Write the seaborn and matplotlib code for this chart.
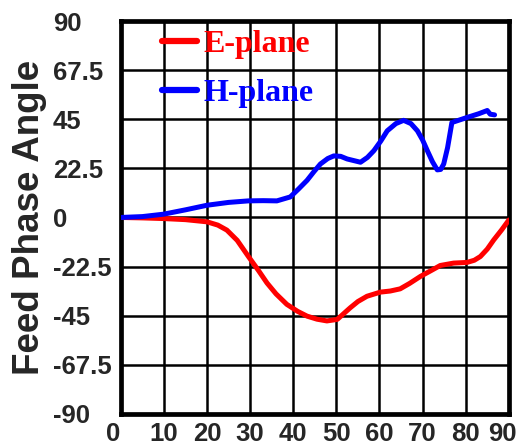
import numpy as np
import pandas as pd
import matplotlib
matplotlib.use("Agg")
import matplotlib.pyplot as plt
import matplotlib.transforms as mtransforms
from matplotlib.font_manager import FontProperties
import seaborn as sns

# ---------------------------------------------------------------------
# Data (angle in degrees)
# ---------------------------------------------------------------------
e_theta = [0, 5, 9.9, 15, 20, 22.5, 24.6, 27, 29.6, 32, 33.9, 36, 38.5, 41,
           43.2, 45.5, 47.8, 50.2, 53.2, 55, 57.1, 60.2, 62.5, 64.8, 67,
           69.5, 72, 74.1, 77.2, 80.3, 82, 83.4, 85, 86.5, 88.3, 90]
e_phase = [0, -0.2, -0.5, -1.0, -2.0, -3.5, -5.8, -10.5, -17.9, -24.5,
           -30.0, -35.0, -39.8, -43.0, -45.2, -46.6, -47.4, -46.7, -41.4,
           -38.5, -36.1, -34.2, -33.7, -32.7, -30.2, -27.0, -24.3, -22.0,
           -20.9, -20.6, -19.6, -17.9, -14.5, -10.3, -5.8, -1.2]

h_theta = [0, 5, 9.9, 15, 20, 25, 29.6, 33, 36.2, 39.3, 41.2, 43.2, 44.8,
           46.3, 48, 49.4, 51, 52.5, 55.6, 57.2, 58.7, 60.3, 61.8, 63.8,
           65.6, 67.3, 68.8, 70, 71.1, 72.3, 73.4, 74.2, 74.9, 75.8, 76.8,
           80.3, 83, 85, 85.7, 86.7]
h_phase = [0, 0.4, 1.5, 3.5, 5.6, 6.9, 7.6, 7.7, 7.6, 9.4, 13.0, 17.0, 21.0,
           24.5, 27.0, 28.2, 28.0, 26.8, 25.3, 27.5, 30.6, 35.0, 39.7, 43.0,
           44.5, 43.0, 39.7, 35.5, 30.6, 25.5, 21.8, 22.0, 24.5, 32.0, 43.5,
           45.8, 47.5, 49.0, 47.3, 47.0]

series_names = ["E-plane", "H-plane"]
series_colors = ["#ff0000", "#0000ff"]

x_ticks = [0, 10, 20, 30, 40, 50, 60, 70, 80, 90]
y_ticks = [-90, -67.5, -45, -22.5, 0, 22.5, 45, 67.5, 90]
y_tick_labels = ["-90", "-67.5", "-45", "-22.5", "0", "22.5", "45", "67.5", "90"]

df = pd.concat([
    pd.DataFrame({"theta": e_theta, "phase": e_phase, "plane": series_names[0]}),
    pd.DataFrame({"theta": h_theta, "phase": h_phase, "plane": series_names[1]}),
], ignore_index=True)

# ---------------------------------------------------------------------
# Plot
# ---------------------------------------------------------------------
sns.set_style("white")
fig = plt.figure(figsize=(5.3, 4.47), dpi=100)
ax = fig.add_axes([0.228, 0.074, 0.732, 0.879])

sns.lineplot(data=df, x="theta", y="phase", hue="plane", sort=False,
             palette=dict(zip(series_names, series_colors)),
             linewidth=3.6, ax=ax, zorder=3)

ax.set_xlim(0, 90)
ax.set_ylim(-90, 90)
ax.set_xticks(x_ticks)
ax.set_yticks(y_ticks)
ax.set_yticklabels(y_tick_labels)
ax.grid(True, color="black", linewidth=1.8)
ax.set_axisbelow(True)

for side in ["left", "right", "top", "bottom"]:
    ax.spines[side].set_visible(True)
    ax.spines[side].set_color("black")
    ax.spines[side].set_linewidth(3.4)

tick_font = FontProperties(family="Liberation Sans", weight="bold", size=18.5)
ax.tick_params(axis="both", length=0)
ax.tick_params(axis="y", pad=49)
ax.tick_params(axis="x", pad=6)
for lab in ax.get_yticklabels():
    lab.set_fontproperties(tick_font)
    lab.set_horizontalalignment("left")
xlabs = ax.get_xticklabels()
for lab in xlabs:
    lab.set_fontproperties(tick_font)
# the end labels sit a little left of their grid lines in the reference
xlabs[0].set_transform(xlabs[0].get_transform() +
                       mtransforms.ScaledTranslation(-0.08, 0, fig.dpi_scale_trans))
xlabs[-1].set_transform(xlabs[-1].get_transform() +
                        mtransforms.ScaledTranslation(-0.06, 0, fig.dpi_scale_trans))

ax.set_xlabel("")
ax.set_ylabel("Feed Phase Angle", family="Liberation Sans", weight="bold",
              size=26.5)
ax.yaxis.set_label_coords(-0.19, 0.5)

leg = ax.legend(loc="upper left", frameon=False, handlelength=1.1,
                handletextpad=0.22, labelspacing=0.62,
                borderpad=0, borderaxespad=0,
                bbox_to_anchor=(0.105, 0.978),
                prop=dict(family="Liberation Serif", weight="bold", size=23),
                labelcolor="linecolor")
for line in leg.get_lines():
    line.set_linewidth(4.5)

fig.savefig("out.png", dpi=100)
